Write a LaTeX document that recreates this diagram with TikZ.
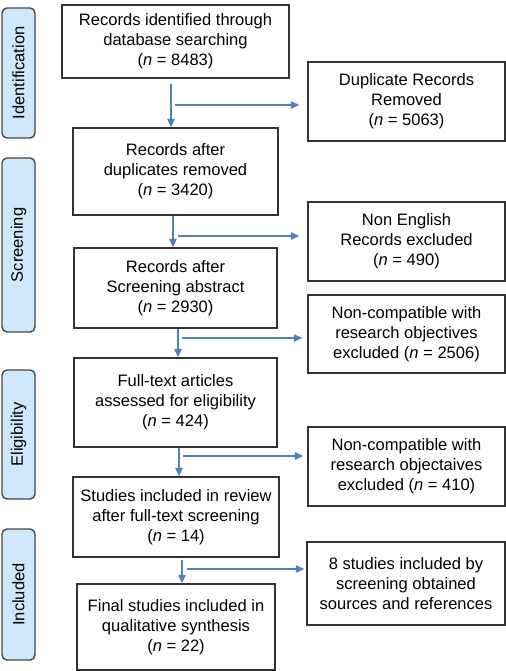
\documentclass[tikz,border=0pt]{standalone}
\usepackage{fontspec}
\setmainfont{Liberation Sans}
\usetikzlibrary{arrows.meta,calc}
\definecolor{arrowblue}{HTML}{4F81BD}
\definecolor{sidefill}{HTML}{CFE8F9}
\definecolor{boxline}{HTML}{333333}
\begin{document}
\begin{tikzpicture}[x=1bp,y=1bp,
  font=\fontsize{16.6}{20}\selectfont,
  flowbox/.style={draw=boxline,line width=1.4bp,fill=white,inner sep=0pt,align=center},
  sidebox/.style={draw=boxline!90,line width=1.4bp,fill=sidefill,rounded corners=5bp,inner sep=0pt,rotate=90,minimum height=33bp},
  arr/.style={draw=arrowblue,line width=1.2bp,-{Triangle[length=8.5bp,width=7.5bp]}},
  flowline/.style={draw=arrowblue,line width=1.2bp}]
\useasboundingbox (0,0) rectangle (506,671);
% side labels
\node[sidebox,minimum width=130bp] (s1) at (18.5,598) {Identification};
\node[sidebox,minimum width=174bp] (s2) at (18.5,426) {Screening};
\node[sidebox,minimum width=129bp] (s3) at (18.5,236.5) {Eligibility};
\node[sidebox,minimum width=131bp] (s4) at (18.5,76.5) {Included};
% main column
\node[flowbox,minimum width=227bp,minimum height=73bp] (b1) at (175.5,629.5) {Records identified through\\database searching\\(\textit{n} = 8483)};
\node[flowbox,minimum width=205bp,minimum height=87bp] (b2) at (175.5,499.5) {Records after\\duplicates removed\\(\textit{n} = 3420)};
\node[flowbox,minimum width=203bp,minimum height=80bp] (b3) at (175.5,383) {Records after\\Screening abstract\\(\textit{n} = 2930)};
\node[flowbox,minimum width=203bp,minimum height=89bp] (b4) at (175.5,268.5) {Full-text articles\\assessed for eligibility\\(\textit{n} = 424)};
\node[flowbox,minimum width=206bp,minimum height=80bp] (b5) at (176,154) {Studies included in review\\after full-text screening\\(\textit{n} = 14)};
\node[flowbox,minimum width=198bp,minimum height=86bp] (b6) at (176,44) {Final studies included in\\qualitative synthesis\\(\textit{n} = 22)};
% right column
\node[flowbox,minimum width=197bp,minimum height=79bp] (r1) at (406.5,569.5) {Duplicate Records\\Removed\\(\textit{n} = 5063)};
\node[flowbox,minimum width=197bp,minimum height=79bp] (r2) at (406.5,429.5) {Non English\\Records excluded\\(\textit{n} = 490)};
\node[flowbox,minimum width=197bp,minimum height=78bp] (r3) at (406.5,337) {Non-compatible with\\research objectives\\excluded (\textit{n} = 2506)};
\node[flowbox,minimum width=197bp,minimum height=79bp] (r4) at (406.5,204.5) {Non-compatible with\\research objectaives\\excluded (\textit{n} = 410)};
\node[flowbox,minimum width=198bp,minimum height=83bp] (r5) at (406,87.5) {8 studies included by\\screening obtained\\sources and references};
% guide coordinates
\coordinate (v1) at (171,566);
\coordinate (v2) at (173,435);
\coordinate (v3) at (178,333);
\coordinate (v4) at (179,215);
\coordinate (v5) at (182,102);
% connectors
\draw[arr] ([yshift=-5bp]b1.south -| v1) -- (b2.north -| v1);
\draw[arr,shorten >=8bp] ([xshift=4bp]v1) -- (r1.west |- v1);
\draw[arr] (b2.south -| v2) -- (b3.north -| v2);
\draw[arr,shorten >=8bp] ([xshift=5bp]v2) -- (r2.west |- v2);
\draw[arr] (b3.south -| v3) -- (b4.north -| v3);
\draw[arr,shorten >=5bp] ([xshift=4bp]v3) -- (r3.west |- v3);
\draw[arr] (b4.south -| v4) -- (b5.north -| v4);
\draw[arr,shorten >=4bp] ([xshift=4bp]v4) -- (r4.west |- v4);
\draw[arr] ([yshift=-2bp]b5.south -| v5) -- (b6.north -| v5);
\draw[arr,shorten >=2bp] ([xshift=5bp]v5) -- (r5.west |- v5);
\end{tikzpicture}
\end{document}
